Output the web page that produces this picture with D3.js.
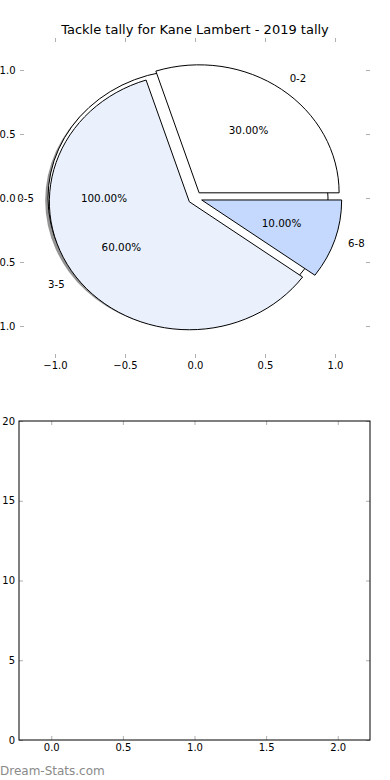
<!DOCTYPE html>
<html>
<head>
<meta charset="utf-8">
<script src="https://cdn.jsdelivr.net/npm/d3@7"></script>
<style>
  body { margin: 0; background: #fff; }
  svg { display: block; font-family: "DejaVu Sans", sans-serif; }
  .tick line { stroke: #b0b0b0; }
  .tick text { fill: #000; font-size: 10px; }
</style>
</head>
<body>
<div id="chart"></div>
<script>
// data
const title = "Tackle tally for Kane Lambert - 2019 tally"
const allLabels = ["0-5"]
const allValues = [10]
const labels = ["0-2", "3-5", "6-8"]
const values = [3, 6, 1]
const pieTicks = [-1, -0.5, 0, 0.5, 1]
const barXTicks = [0, 0.5, 1, 1.5, 2]
const barYTicks = [0, 5, 10, 15, 20]

const width = 390, height = 780
const explode = 0.05
const sliceColors = ["#ffffff", "#eaf1fd", "#c4d9fd"]

const svg = d3.select("div#chart").append("svg").attr("width", width).attr("height", height)

// ---------- top: pie ----------
const x = d3.scaleLinear().domain([-1.25, 1.25]).range([20, 370])
const y = d3.scaleLinear().domain([-1.25, 1.25]).range([358, 38])
const sx = x(1) - x(0), sy = y(0) - y(1)

svg.append("text").attr("x", 195).attr("y", 34).attr("text-anchor", "middle")
  .style("font-size", "13px").text(title)

const pieGroup = svg.append("g")
const textGroup = svg.append("g")
const pie = d3.pie().sort(null).startAngle(Math.PI / 2).endAngle(Math.PI / 2 - 2 * Math.PI)
const arc = d3.arc().innerRadius(0).outerRadius(1)
const fmt = d3.format(".2f")

function drawPie(vals, labs, colors, shadow) {
  const total = d3.sum(vals)
  pie(vals).forEach((d, i) => {
    const phi = Math.PI / 2 - (d.startAngle + d.endAngle) / 2
    const cx = explode * Math.cos(phi), cy = explode * Math.sin(phi)
    if (shadow) {
      pieGroup.append("path")
        .attr("d", arc(d))
        .attr("transform", `translate(${x(cx - 0.02)},${y(cy - 0.02)}) scale(${sx},${sy})`)
        .attr("fill", "#4d4d4d").attr("opacity", 0.6)
    }
    pieGroup.append("path")
      .attr("d", arc(d))
      .attr("transform", `translate(${x(cx)},${y(cy)}) scale(${sx},${sy})`)
      .attr("fill", colors[i]).attr("stroke", "#000").attr("stroke-width", 1)
      .attr("vector-effect", "non-scaling-stroke")
    const lx = cx + 1.1 * Math.cos(phi), ly = cy + 1.1 * Math.sin(phi)
    textGroup.append("text").attr("x", x(lx)).attr("y", y(ly)).attr("dy", "0.35em")
      .attr("text-anchor", lx > 0 ? "start" : "end").style("font-size", "10.2px").text(labs[i])
    const px = cx + 0.6 * Math.cos(phi), py = cy + 0.6 * Math.sin(phi)
    textGroup.append("text").attr("x", x(px)).attr("y", y(py)).attr("dy", "0.35em")
      .attr("text-anchor", "middle").style("font-size", "10.4px").text(fmt(d.value / total * 100) + "%")
  })
}
drawPie(allValues, allLabels, ["#ffffff"], true)
drawPie(values, labels, sliceColors, false)

const tf = d3.format(".1f")
const topAxes = svg.append("g")
topAxes.append("g").attr("transform", `translate(0,${y(-1.25)})`)
  .call(d3.axisBottom(x).tickValues(pieTicks).tickFormat(tf).tickSize(-4).tickPadding(4))
topAxes.append("g").attr("transform", `translate(0,${y(1.25)})`)
  .call(d3.axisTop(x).tickValues(pieTicks).tickFormat("").tickSize(-4))
topAxes.append("g").attr("transform", `translate(${x(-1.25)},0)`)
  .call(d3.axisLeft(y).tickValues(pieTicks).tickFormat(tf).tickSize(-4).tickPadding(4.5))
topAxes.append("g").attr("transform", `translate(${x(1.25)},0)`)
  .call(d3.axisRight(y).tickValues(pieTicks).tickFormat("").tickSize(-4))
topAxes.selectAll(".domain").remove()
topAxes.selectAll("g").attr("font-family", null).attr("font-size", null)

// ---------- bottom: empty axes ----------
const x2 = d3.scaleLinear().domain([-0.225, 2.225]).range([19, 370])
const y2 = d3.scaleLinear().domain([0, 20]).range([740, 421])
const bot = svg.append("g")
bot.append("g").attr("transform", `translate(0,${y2(0)})`)
  .call(d3.axisBottom(x2).tickValues(barXTicks).tickFormat(tf).tickSize(-4).tickPadding(4))
bot.append("g").attr("transform", `translate(0,${y2(20)})`)
  .call(d3.axisTop(x2).tickValues(barXTicks).tickFormat("").tickSize(-4))
bot.append("g").attr("transform", `translate(${x2(-0.225)},0)`)
  .call(d3.axisLeft(y2).tickValues(barYTicks).tickFormat(d3.format("d")).tickSize(-4).tickPadding(4))
bot.append("g").attr("transform", `translate(${x2(2.225)},0)`)
  .call(d3.axisRight(y2).tickValues(barYTicks).tickFormat("").tickSize(-4))
bot.selectAll(".domain").remove()
bot.selectAll("g").attr("font-family", null).attr("font-size", null)
bot.append("rect")
  .attr("x", x2(-0.225)).attr("y", y2(20))
  .attr("width", x2(2.225) - x2(-0.225)).attr("height", y2(0) - y2(20))
  .attr("fill", "none").attr("stroke", "#000").attr("stroke-width", 1)

svg.append("text").attr("x", 0).attr("y", 775)
  .style("font-size", "12px").attr("fill", "#8a8a8a").text("Dream-Stats.com")
</script>
</body>
</html>
